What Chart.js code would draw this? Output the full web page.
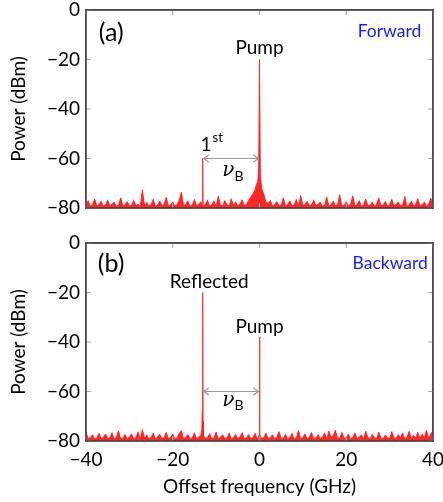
<!DOCTYPE html>
<html>
<head>
<meta charset="utf-8">
<script src="https://cdn.jsdelivr.net/npm/chart.js@4.4.0/dist/chart.umd.min.js"></script>
<style>
body { margin: 0; background: #fff; }
#wrap { position: relative; width: 443px; height: 502px; }
#chartA { position: absolute; left: 0; top: 0; }
#chartB { position: absolute; left: 0; top: 230px; }
</style>
</head>
<body>
<div id="wrap">
<canvas id="chartA" width="443" height="230"></canvas>
<canvas id="chartB" width="443" height="272"></canvas>
</div>
<script>
// tick labels
var xTicks = [-40, -20, 0, 20, 40];
var yTicks = [0, -20, -40, -60, -80];

// (a) forward spectrum
var freqA = [
  -40,-39.5,-39,-38.5,-38,-37.5,-37,-36.5,-36,-35.5,
  -35,-34.5,-34,-33.5,-33,-32.5,-32,-31.5,-31,-30.5,
  -30,-29.5,-29,-28.5,-28,-27.5,-27,-26.5,-26,-25.5,
  -25,-24.5,-24,-23.5,-23,-22.5,-22,-21.5,-21,-20.5,
  -20,-19.5,-19,-18.5,-18,-17.5,-17,-16.5,-16,-15.5,
  -15,-14.5,-14,-13.5,-13.2,-13.1,-13.0,-12.5,-12,-11.5,
  -11,-10.5,-10,-9.5,-9,-8.5,-8,-7.5,-7,-6.5,
  -6,-5.5,-5,-4.5,-4,-3.5,-3,-2.5,-2,-1.5,
  -1,-0.7,-0.4,-0.2,0,0.2,0.5,1,1.5,2,
  2.5,3,3.5,4,4.5,5,5.5,6,6.5,7,
  7.5,8,8.5,9,9.5,10,10.5,11,11.5,12,
  12.5,13,13.5,14,14.5,15,15.5,16,16.5,17,
  17.5,18,18.5,19,19.5,20,20.5,21,21.5,22,
  22.5,23,23.5,24,24.5,25,25.5,26,26.5,27,
  27.5,28,28.5,29,29.5,30,30.5,31,31.5,32,
  32.5,33,33.5,34,34.5,35,35.5,36,36.5,37,
  37.5,38,38.5,39,39.5,40
];
var powerA = [
  -78.9,-77.0,-79.3,-78.6,-76.4,-79.1,-78.7,-77.3,-79.2,-78.8,
  -76.8,-79.0,-78.5,-77.6,-79.3,-78.7,-75.9,-79.1,-78.6,-77.4,
  -79.2,-78.8,-76.9,-79.0,-78.4,-79.3,-72.6,-78.9,-77.8,-79.1,
  -78.6,-76.5,-79.2,-78.8,-77.2,-79.0,-78.5,-75.6,-79.1,-78.7,
  -77.5,-79.2,-78.6,-76.8,-73.6,-79.0,-78.4,-77.1,-79.3,-78.7,
  -76.6,-79.0,-78.5,-77.4,-79.2,-60,-79.1,-78.6,-76.9,-79.0,
  -78.7,-77.2,-79.3,-75.2,-78.8,-79.1,-77.0,-78.6,-79.2,-76.3,
  -78.9,-77.5,-79.1,-78.4,-76.7,-79.0,-78.5,-76.9,-75.5,-74.2,
  -72.5,-70.5,-69.5,-64,-20,-66,-72,-74.5,-77.5,-78.2,
  -76.9,-79.2,-78.6,-77.4,-79.0,-78.8,-75.9,-79.3,-78.5,-77.1,
  -79.0,-78.7,-76.6,-79.2,-74.9,-78.9,-78.4,-77.3,-79.1,-78.6,
  -76.8,-79.0,-78.5,-77.6,-79.3,-78.8,-75.6,-79.1,-78.7,-77.2,
  -79.0,-78.6,-74.6,-79.2,-78.8,-77.5,-79.1,-78.4,-75.1,-79.0,
  -78.7,-77.0,-79.3,-78.6,-76.4,-79.1,-78.9,-77.6,-79.2,-78.5,
  -75.9,-79.0,-78.8,-77.3,-79.2,-78.6,-76.5,-79.1,-78.4,-77.7,
  -79.0,-78.8,-75.4,-79.3,-78.6,-77.2,-79.1,-78.5,-76.3,-79.0,
  -78.7,-77.6,-79.2,-78.4,-76.1,-78.0
];

// (b) backward spectrum
var freqB = [
  -40,-39.5,-39,-38.5,-38,-37.5,-37,-36.5,-36,-35.5,
  -35,-34.5,-34,-33.5,-33,-32.5,-32,-31.5,-31,-30.5,
  -30,-29.5,-29,-28.5,-28,-27.5,-27,-26.5,-26,-25.5,
  -25,-24.5,-24,-23.5,-23,-22.5,-22,-21.5,-21,-20.5,
  -20,-19.5,-19,-18.5,-18,-17.5,-17,-16.5,-16,-15.5,
  -15,-14.5,-14,-13.5,-13.3,-13.2,-13.1,-13.0,-12.9,-12.5,
  -12,-11.5,-11,-10.5,-10,-9.5,-9,-8.5,-8,-7.5,
  -7,-6.5,-6,-5.5,-5,-4.5,-4,-3.5,-3,-2.5,
  -2,-1.5,-1,-0.5,-0.1,0,0.1,0.5,1,1.5,
  2,2.5,3,3.5,4,4.5,5,5.5,6,6.5,
  7,7.5,8,8.5,9,9.5,10,10.5,11,11.5,
  12,12.5,13,13.5,14,14.5,15,15.5,16,16.5,
  17,17.5,18,18.5,19,19.5,20,20.5,21,21.5,
  22,22.5,23,23.5,24,24.5,25,25.5,26,26.5,
  27,27.5,28,28.5,29,29.5,30,30.5,31,31.5,
  32,32.5,33,33.5,34,34.5,35,35.5,36,36.5,
  37,37.5,38,38.5,39,39.5,40
];
var powerB = [
  -76.4,-79.0,-78.6,-77.5,-79.2,-78.8,-76.9,-79.1,-78.5,-77.2,
  -79.0,-78.7,-76.6,-79.3,-78.4,-75.9,-79.1,-78.8,-77.4,-79.0,
  -78.5,-77.1,-79.2,-78.7,-76.3,-79.0,-75.4,-78.9,-77.6,-79.1,
  -78.6,-76.8,-79.2,-78.4,-77.3,-79.0,-78.7,-76.5,-79.1,-78.5,
  -77.2,-79.3,-78.6,-76.9,-75.8,-79.0,-78.5,-77.4,-79.2,-78.8,
  -76.7,-79.1,-78.4,-77.6,-75.5,-68,-20,-72,-77.8,-79.0,
  -78.6,-77.0,-79.2,-78.7,-76.4,-79.1,-78.5,-77.5,-79.0,-78.8,
  -76.8,-79.2,-78.6,-77.3,-79.0,-78.4,-76.6,-79.1,-78.7,-77.4,
  -79.0,-78.5,-76.9,-79.2,-77.6,-38,-77.4,-79.0,-78.6,-76.8,
  -79.1,-78.7,-77.5,-79.2,-78.4,-76.2,-79.0,-78.8,-77.3,-79.1,
  -78.6,-76.9,-79.3,-78.5,-75.7,-79.0,-78.7,-77.1,-79.2,-78.4,
  -76.6,-79.1,-78.8,-77.4,-79.0,-78.5,-76.7,-79.2,-75.9,-78.6,
  -77.8,-75.6,-79.1,-78.7,-76.5,-79.0,-78.4,-77.2,-79.3,-78.6,
  -76.8,-79.0,-78.5,-77.5,-79.2,-76.0,-78.7,-79.1,-77.3,-78.6,
  -79.0,-76.4,-78.8,-79.2,-77.6,-78.5,-79.1,-76.2,-78.7,-79.0,
  -77.4,-78.6,-76.8,-79.2,-78.4,-76.1,-79.0,-77.7,-78.8,-76.5,
  -79.1,-77.2,-78.6,-75.6,-78.9,-77.1,-76.0
];

var FONT = 'Lato';
var MINUS = '\u2212';
var FRAME = '#4a4a4a';

function fmt(v) {
    return v < 0 ? MINUS + Math.abs(v) : String(v);
}

function toPoints(xs, ys) {
    return xs.map(function (x, i) { return { x: x, y: ys[i] }; });
}

function drawArrow(ctx, x1, x2, y) {
    ctx.save();
    ctx.strokeStyle = '#999';
    ctx.lineWidth = 1.2;
    ctx.beginPath();
    ctx.moveTo(x1, y); ctx.lineTo(x2, y);
    ctx.moveTo(x1 + 5, y - 3.5); ctx.lineTo(x1, y); ctx.lineTo(x1 + 5, y + 3.5);
    ctx.moveTo(x2 - 5, y - 3.5); ctx.lineTo(x2, y); ctx.lineTo(x2 - 5, y + 3.5);
    ctx.stroke();
    ctx.restore();
}

// inner tick marks, frame and text marks
function panelPlugin(marks) {
    return {
        id: 'panel',
        afterDraw: function (chart) {
            var ctx = chart.ctx;
            var xs = chart.scales.x, ys = chart.scales.y;
            var x0 = xs.getPixelForValue(-40), x1 = xs.getPixelForValue(40);
            var y0 = ys.getPixelForValue(0), y1 = ys.getPixelForValue(-80);
            ctx.save();
            ctx.strokeStyle = '#aaaaaa';
            ctx.lineWidth = 1.2;
            xTicks.forEach(function (t) {
                var px = xs.getPixelForValue(t);
                ctx.beginPath();
                ctx.moveTo(px, y0); ctx.lineTo(px, y0 + 5);
                ctx.moveTo(px, y1); ctx.lineTo(px, y1 - 5);
                ctx.stroke();
            });
            yTicks.forEach(function (t) {
                var py = ys.getPixelForValue(t);
                ctx.beginPath();
                ctx.moveTo(x0, py); ctx.lineTo(x0 + 5, py);
                ctx.moveTo(x1, py); ctx.lineTo(x1 - 5, py);
                ctx.stroke();
            });
            ctx.strokeStyle = FRAME;
            ctx.lineWidth = 1.4;
            ctx.beginPath();
            ctx.moveTo(x0, y0); ctx.lineTo(x1, y0); ctx.lineTo(x1, y1); ctx.lineTo(x0, y1);
            ctx.closePath();
            ctx.stroke();
            ctx.restore();

            if (marks.arrow) {
                drawArrow(ctx, xs.getPixelForValue(marks.arrow[0]) + 1,
                    xs.getPixelForValue(marks.arrow[1]) - 1, ys.getPixelForValue(marks.arrow[2]));
            }

            ctx.save();
            ctx.textBaseline = 'middle';
            marks.texts.forEach(function (m) {
                ctx.fillStyle = m.color || '#000';
                ctx.font = m.font;
                ctx.textAlign = m.align || 'center';
                ctx.fillText(m.text, xs.getPixelForValue(m.x), ys.getPixelForValue(m.y));
            });
            if (marks.nu) {
                var nx = xs.getPixelForValue(marks.nu[0]), ny = ys.getPixelForValue(marks.nu[1]);
                ctx.fillStyle = '#000';
                ctx.textAlign = 'right';
                ctx.font = 'italic 20px "DejaVu Serif"';
                ctx.fillText('\u03bd', nx + 1, ny - 1);
                ctx.textAlign = 'left';
                ctx.font = '14px ' + FONT;
                ctx.fillText('B', nx + 1, ny + 4);
            }
            if (marks.first) {
                var fx = xs.getPixelForValue(marks.first[0]), fy = ys.getPixelForValue(marks.first[1]);
                ctx.fillStyle = '#000';
                ctx.textAlign = 'left';
                ctx.font = '19px ' + FONT;
                ctx.fillText('1', fx, fy);
                var w = ctx.measureText('1').width;
                ctx.font = '13px ' + FONT;
                ctx.fillText('st', fx + w + 1, fy - 7);
            }
            ctx.restore();
        }
    };
}

// bare axis used only for its border line (top and right edges of the box)
function edgeAxis(pos) {
    var horiz = pos === 'top';
    return {
        type: 'linear',
        position: pos,
        min: horiz ? -40 : -80,
        max: horiz ? 40 : 0,
        grid: { display: true, drawOnChartArea: false, drawTicks: false, color: 'rgba(0,0,0,0)' },
        border: { display: true, color: FRAME, width: 1.4 },
        ticks: { display: false },
        afterFit: function (s) {
            if (horiz) { s.height = 0; } else { s.width = 0; }
            s.paddingLeft = 0; s.paddingRight = 0; s.paddingTop = 0; s.paddingBottom = 0;
        }
    };
}

function makeChart(id, xs, ys, showX, xHeight, pad, marks) {
    return new Chart(document.getElementById(id), {
        type: 'line',
        data: {
            datasets: [{
                data: toPoints(xs, ys),
                borderColor: '#ff1a1a',
                borderWidth: 0.8,
                backgroundColor: 'rgba(255,0,0,0.85)',
                fill: 'start',
                pointRadius: 0,
                tension: 0
            }]
        },
        options: {
            responsive: false,
            animation: false,
            layout: { padding: pad },
            plugins: { legend: { display: false }, tooltip: { enabled: false } },
            scales: {
                x: {
                    type: 'linear',
                    min: -40, max: 40,
                    grid: { display: true, drawOnChartArea: false, drawTicks: false, color: 'rgba(0,0,0,0)' },
                    border: { display: true, color: FRAME, width: 1.4 },
                    afterBuildTicks: function (s) { s.ticks = xTicks.map(function (v) { return { value: v }; }); },
                    afterFit: function (s) {
                        s.height = xHeight;
                        s.paddingLeft = 0; s.paddingRight = 0;
                    },
                    ticks: {
                        display: showX,
                        padding: 7,
                        color: '#000',
                        font: { family: FONT, size: 19 },
                        maxRotation: 0,
                        callback: fmt
                    },
                    title: {
                        display: showX,
                        text: 'Offset frequency (GHz)',
                        color: '#000',
                        font: { family: FONT, size: 19 },
                        padding: { top: 0, bottom: 4 }
                    }
                },
                x2: edgeAxis('top'),
                y: {
                    min: -80, max: 0,
                    grid: { display: true, drawOnChartArea: false, drawTicks: false, color: 'rgba(0,0,0,0)' },
                    border: { display: true, color: FRAME, width: 1.4 },
                    afterBuildTicks: function (s) { s.ticks = yTicks.map(function (v) { return { value: v }; }); },
                    afterFit: function (s) {
                        s.width = 86;
                        s.paddingTop = 0; s.paddingBottom = 0;
                    },
                    ticks: {
                        padding: 6,
                        color: '#000',
                        font: { family: FONT, size: 19 },
                        callback: fmt
                    },
                    title: {
                        display: true,
                        text: 'Power (dBm)',
                        color: '#000',
                        font: { family: FONT, size: 19 },
                        padding: { top: 7, bottom: 0 }
                    }
                },
                y2: edgeAxis('right')
            }
        },
        plugins: [panelPlugin(marks)]
    });
}

makeChart('chartA', freqA, powerA, false, 22, { top: 10, right: 10, bottom: 0, left: 0 }, {
    arrow: [-13.1, 0, -60],
    nu: [-6.0, -65.5],
    first: [-13.6, -54.5],
    texts: [
        { text: '(a)', x: -34.2, y: -9.3, font: '25px ' + FONT },
        { text: 'Forward', x: 37.3, y: -8.5, font: '17.5px ' + FONT, color: '#1a1aff', align: 'right' },
        { text: 'Pump', x: 0, y: -15.4, font: '19px ' + FONT }
    ]
});

makeChart('chartB', freqB, powerB, true, 61, { top: 13, right: 10, bottom: 0, left: 0 }, {
    arrow: [-13.1, 0, -60],
    nu: [-6.0, -64.2],
    texts: [
        { text: '(b)', x: -34.2, y: -8.5, font: '25px ' + FONT },
        { text: 'Backward', x: 38.8, y: -8.1, font: '17.5px ' + FONT, color: '#1a1aff', align: 'right' },
        { text: 'Reflected', x: -11.6, y: -15.8, font: '19px ' + FONT },
        { text: 'Pump', x: 0, y: -33.9, font: '19px ' + FONT }
    ]
});
</script>
</body>
</html>
